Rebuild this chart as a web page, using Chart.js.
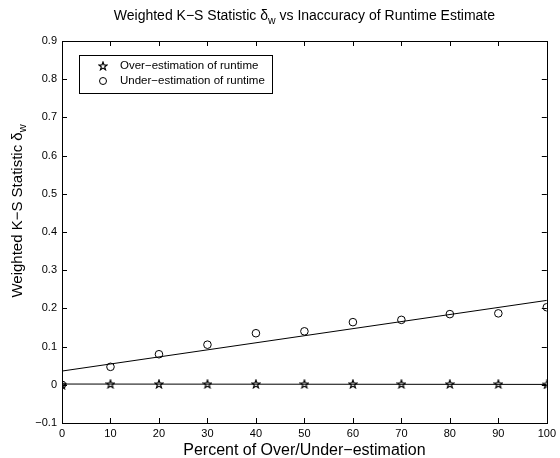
<!DOCTYPE html>
<html>
<head>
<meta charset="utf-8">
<script src="https://cdn.jsdelivr.net/npm/chart.js@4/dist/chart.umd.min.js"></script>
<style>
  html, body { margin: 0; padding: 0; background: #fff; }
  #wrap { width: 560px; height: 458px; }
</style>
</head>
<body>
<div id="wrap"><canvas id="myChart" width="560" height="458"></canvas></div>
<script>
// data
const percents = [0, 10, 20, 30, 40, 50, 60, 70, 80, 90, 100];
const overEst = [0.000, 0.002, 0.002, 0.002, 0.002, 0.002, 0.002, 0.002, 0.002, 0.002, 0.001];
const underEst = [0.000, 0.047, 0.080, 0.105, 0.135, 0.140, 0.164, 0.170, 0.185, 0.187, 0.203];
const fitX = [0, 100];
const overFit = [0.002, 0.001];
const underFit = [0.036, 0.221];
const legendLabels = ['Over\u2212estimation of runtime', 'Under\u2212estimation of runtime'];
const xTicks = [0, 10, 20, 30, 40, 50, 60, 70, 80, 90, 100];
const yTicks = [-0.1, 0, 0.1, 0.2, 0.3, 0.4, 0.5, 0.6, 0.7, 0.8, 0.9];

const FONT = '"Liberation Sans", Arial, Helvetica, sans-serif';

// pentagram marker like matlab 'p'
function makeStar() {
    const c = document.createElement('canvas');
    c.width = 10; c.height = 10;
    const g = c.getContext('2d');
    g.beginPath();
    for (let i = 0; i < 10; i++) {
        const r = i % 2 === 0 ? 4.3 : 1.8;
        const a = -Math.PI / 2 + i * Math.PI / 5;
        const px = 5 + r * Math.cos(a), py = 5.3 + r * Math.sin(a);
        if (i === 0) g.moveTo(px, py); else g.lineTo(px, py);
    }
    g.closePath();
    g.strokeStyle = '#000';
    g.lineWidth = 1.2;
    g.stroke();
    return c;
}
const starImg = makeStar();

function pts(xs, ys) {
    return xs.map((x, i) => ({ x: x, y: ys[i] }));
}

// draws text with a small "w" subscript after it
function subText(ctx, main, sub, rest, x, y, big, small) {
    ctx.font = big;
    const w1 = ctx.measureText(main).width;
    const w3 = rest ? ctx.measureText(rest).width : 0;
    ctx.font = small;
    const w2 = ctx.measureText(sub).width;
    let tx = x - (w1 + w2 + w3) / 2;
    ctx.font = big; ctx.fillText(main, tx, y); tx += w1;
    ctx.font = small; ctx.fillText(sub, tx, y + 4); tx += w2;
    if (rest) { ctx.font = big; ctx.fillText(rest, tx, y); }
}

// frame, inward ticks, titles and legend, matlab style
const matlabPlugin = {
    id: 'matlab',
    afterDatasetsDraw(chart) {
        const ctx = chart.ctx;
        const a = chart.chartArea;
        const xs = chart.scales.x, ys = chart.scales.y;
        ctx.save();
        ctx.strokeStyle = '#000';
        ctx.lineWidth = 1;
        ctx.strokeRect(Math.round(a.left) + 0.5, Math.round(a.top) + 0.5,
            Math.round(a.right - a.left), Math.round(a.bottom - a.top));
        ctx.beginPath();
        xTicks.forEach(v => {
            const px = Math.round(xs.getPixelForValue(v)) + 0.5;
            ctx.moveTo(px, a.bottom); ctx.lineTo(px, a.bottom - 5);
            ctx.moveTo(px, a.top); ctx.lineTo(px, a.top + 5);
        });
        yTicks.forEach(v => {
            const py = Math.round(ys.getPixelForValue(v)) + 0.5;
            ctx.moveTo(a.left, py); ctx.lineTo(a.left + 5, py);
            ctx.moveTo(a.right, py); ctx.lineTo(a.right - 5, py);
        });
        ctx.stroke();

        // legend
        const lx = 79, ly = 55, lw = 193, lh = 38;
        ctx.fillStyle = '#fff';
        ctx.fillRect(lx, ly, lw, lh);
        ctx.strokeRect(lx + 0.5, ly + 0.5, lw, lh);
        ctx.drawImage(starImg, 103 - 5, 66 - 5);
        ctx.beginPath();
        ctx.arc(103, 81, 3.5, 0, Math.PI * 2);
        ctx.stroke();
        ctx.fillStyle = '#000';
        ctx.font = '11.5px ' + FONT;
        ctx.textBaseline = 'middle';
        ctx.textAlign = 'left';
        ctx.fillText(legendLabels[0], 120, 66);
        ctx.fillText(legendLabels[1], 120, 81);

        ctx.textBaseline = 'alphabetic';
        const cx = (a.left + a.right) / 2;
        // title
        subText(ctx, 'Weighted K\u2212S Statistic \u03b4', 'w', ' vs Inaccuracy of Runtime Estimate',
            cx, 20, '14px ' + FONT, '10.5px ' + FONT);
        // x label
        ctx.font = '16px ' + FONT;
        ctx.textAlign = 'center';
        ctx.fillText('Percent of Over/Under\u2212estimation', cx, 455);
        ctx.textAlign = 'left';
        // y label, rotated
        ctx.save();
        ctx.translate(22, 211);
        ctx.rotate(-Math.PI / 2);
        subText(ctx, 'Weighted K\u2212S Statistic \u03b4', 'w', '', 0, 0, '15px ' + FONT, '11px ' + FONT);
        ctx.restore();
        ctx.restore();
    }
};

const chart = document.getElementById('myChart');
new Chart(chart, {
    type: 'scatter',
    data: {
        datasets: [{
            data: pts(fitX, overFit),
            showLine: true,
            borderColor: '#000',
            borderWidth: 1,
            pointRadius: 0
        }, {
            data: pts(fitX, underFit),
            showLine: true,
            borderColor: '#000',
            borderWidth: 1,
            pointRadius: 0
        }, {
            label: legendLabels[0],
            data: pts(percents, overEst),
            pointStyle: starImg,
            showLine: false
        }, {
            label: legendLabels[1],
            data: pts(percents, underEst),
            pointStyle: 'circle',
            pointRadius: 3.8,
            borderColor: '#000',
            borderWidth: 1,
            backgroundColor: 'rgba(0,0,0,0)',
            showLine: false
        }]
    },
    options: {
        responsive: false,
        animation: false,
        events: [],
        layout: { padding: { top: 41, right: 10, left: 0, bottom: 0 } },
        plugins: {
            legend: { display: false },
            title: { display: false },
            tooltip: { enabled: false }
        },
        scales: {
            x: {
                type: 'linear',
                min: 0,
                max: 100,
                afterFit: s => { s.height = 35; },
                afterBuildTicks: s => { s.ticks = xTicks.map(v => ({ value: v })); },
                grid: { display: false, drawTicks: false },
                border: { display: false },
                ticks: { color: '#000', font: { family: FONT, size: 11 }, padding: 4, maxRotation: 0 }
            },
            y: {
                min: -0.1,
                max: 0.9,
                afterFit: s => { s.width = 62; },
                afterBuildTicks: s => { s.ticks = yTicks.map(v => ({ value: v })); },
                grid: { display: false, drawTicks: false },
                border: { display: false },
                ticks: {
                    color: '#000',
                    font: { family: FONT, size: 11 },
                    padding: 5,
                    callback: v => {
                        const r = Math.round(v * 10) / 10;
                        if (r === 0) return '0';
                        return r < 0 ? '\u2212' + Math.abs(r).toFixed(1) : r.toFixed(1);
                    }
                }
            }
        }
    },
    plugins: [matlabPlugin]
});
</script>
</body>
</html>
